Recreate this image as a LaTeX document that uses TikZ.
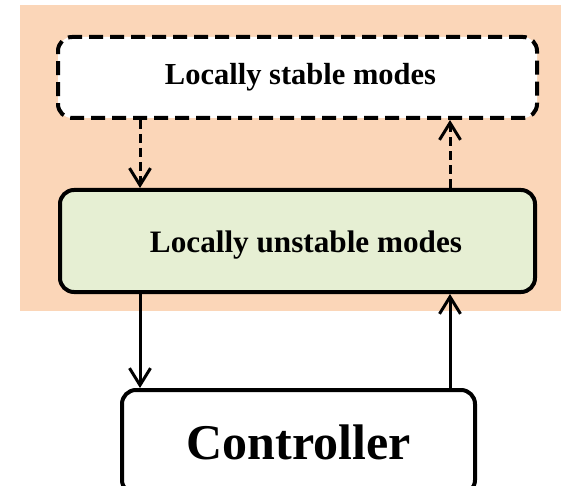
\documentclass[tikz,border=0pt]{standalone}
\usepackage{fontspec}
\setmainfont{Liberation Serif}
\usetikzlibrary{arrows.meta}
\definecolor{peach}{HTML}{FBD6B8}
\definecolor{palegreen}{HTML}{E6EFD3}
\tikzset{
  barb/.tip={Straight Barb[length=17pt,width=21pt,line width=3pt]},
  modebox/.style={draw=black, line width=4pt, rounded corners=14pt, align=center},
  dasharrow/.style={line width=3pt, dash pattern=on 9pt off 5pt, -barb},
  solidarrow/.style={line width=3pt, -barb},
}
\begin{document}
\begin{tikzpicture}[x=1pt,y=-1pt]
\useasboundingbox (0,0) rectangle (561,486);
\clip (0,0) rectangle (561,486);
% shaded plant region
\fill[peach] (20,5) rectangle (561,311);
% mode boxes
\node[modebox, dash pattern=on 14pt off 7pt, fill=white,
      minimum width=479pt, minimum height=81pt] (stable) at (297.5,77.5)
      {\fontsize{30.5}{34}\selectfont\bfseries\hspace*{6pt}Locally stable modes};
\node[modebox, fill=palegreen,
      minimum width=475pt, minimum height=102pt] (unstable) at (297.5,241)
      {\fontsize{31.2}{35}\selectfont\bfseries
       \raisebox{-4pt}[\height][\depth]{\hspace*{17pt}Locally unstable modes}};
\node[modebox, fill=white,
      minimum width=353pt, minimum height=104pt] (ctrl) at (298.5,442)
      {\fontsize{50}{56}\selectfont\bfseries Controller};
% arrow columns
\coordinate (lx) at (140,0);
\coordinate (rx) at (450,0);
\draw[dasharrow] (stable.south -| lx) -- (unstable.north -| lx);
\draw[dasharrow] (unstable.north -| rx) -- (stable.south -| rx);
\draw[solidarrow] (unstable.south -| lx) -- (ctrl.north -| lx);
\draw[solidarrow] (ctrl.north -| rx) -- (unstable.south -| rx);
\end{tikzpicture}
\end{document}
